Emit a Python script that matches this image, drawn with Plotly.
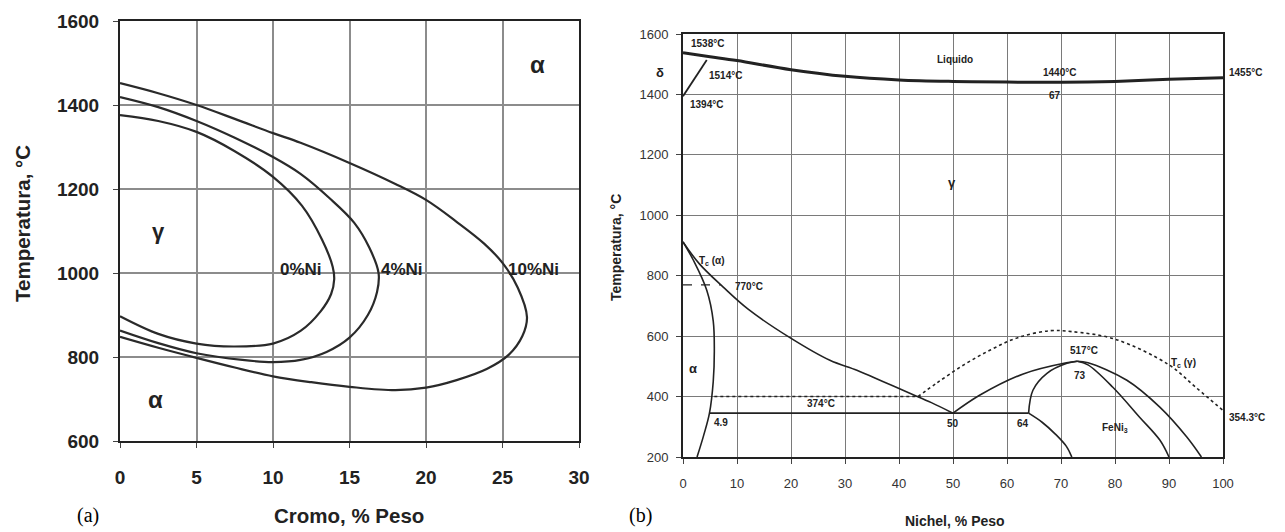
import plotly.graph_objects as go

# ---------------- Data: panel (a) Fe-Cr-Ni gamma loops ----------------
ni0_x = [0, 2.5, 5, 7.4, 10, 11.8, 13.1, 13.8, 14.0, 13.9, 13.2, 11.9, 10, 7.5, 5, 2.5, 0]
ni0_y = [897, 855, 832, 825, 832, 862, 908, 950, 985, 1015, 1080, 1160, 1229, 1290, 1336, 1362, 1376]

ni4_x = [0, 2.5, 5, 8, 10, 11.8, 13.5, 15, 16.2, 16.8, 16.9, 16.3, 15.3, 13.7, 11.8, 10, 7.5, 5, 2.5, 0]
ni4_y = [863, 833, 809, 793, 788, 793, 812, 846, 900, 955, 1000, 1060, 1120, 1178, 1236, 1276, 1322, 1362, 1395, 1419]

ni10_x = [0, 2.5, 5, 7.5, 10, 12.5, 15, 18, 20, 22, 24, 25.4, 26.3, 26.6, 26.0, 25, 23.8, 22, 20, 18, 15, 11.8, 10, 7.5, 5, 2.5, 0]
ni10_y = [848, 822, 798, 775, 754, 740, 729, 721, 727, 745, 772, 805, 850, 895, 965, 1024, 1070, 1122, 1174, 1212, 1262, 1310, 1333, 1367, 1400, 1428, 1452]

a_labels = ["γ", "α", "α", "0%Ni", "4%Ni", "10%Ni"]
a_lab_x = [2.5, 27.3, 2.3, 11.8, 18.4, 27.0]
a_lab_y = [1098, 1497, 700, 1008, 1008, 1008]
a_lab_size = [22, 24, 24, 17, 17, 17]

# ---------------- Data: panel (b) Fe-Ni diagram ----------------
liq_x = [0, 5, 10, 20, 30, 40, 50, 60, 67, 75, 80, 90, 100]
liq_y = [1538, 1525, 1512, 1482, 1460, 1448, 1443, 1441, 1440, 1441, 1443, 1450, 1455]

delta_x = [0, 4.4]
delta_y = [1394, 1514]

gam_x = [0, 3, 7.4, 12, 19.8, 27.2, 32.2, 37, 42, 46, 50]
gam_y = [912, 840, 763, 690, 595, 520, 487, 450, 411, 380, 345]

alp_x = [0, 1.9, 4.4, 5.6, 5.8, 5.6, 4.9, 3.8, 2.6]
alp_y = [912, 852, 752, 650, 550, 450, 345, 270, 200]

eut_x = [4.9, 64]
eut_y = [345, 345]

c64_x = [64, 66.5, 69, 71, 72]
c64_y = [345, 315, 275, 235, 200]

c64up_x = [64, 64.8, 67.4, 71.1, 73]
c64up_y = [345, 421, 477, 510, 517]

c50up_x = [50, 55, 63, 71, 73]
c50up_y = [345, 405, 475, 512, 517]

in73_x = [73, 75, 79.6, 84.6, 88.3, 90]
in73_y = [517, 505, 431, 331, 256, 200]

out73_x = [73, 75, 82.2, 88.3, 93.3, 96]
out73_y = [517, 512, 454, 365, 266, 200]

curie_x = [0, 7]
curie_y = [770, 770]

mag400_x = [5.8, 44]
mag400_y = [400, 400]

tcg_x = [43.5, 47, 52, 57, 62, 68, 72, 80, 90, 95, 100]
tcg_y = [400, 445, 505, 555, 595, 618, 615, 590, 505, 430, 354]

b_labels = ["1538°C", "1514°C", "1394°C", "δ", "Liquido", "1440°C", "67", "1455°C",
            "γ", "T<sub>c</sub> (α)", "770°C", "α", "374°C", "4.9", "50", "64",
            "517°C", "73", "T<sub>c</sub> (γ)", "354.3°C", "FeNi<sub>3</sub>"]
b_lab_x = [1.2, 4.4, 1.0, -4.3, 50.4, 69.8, 68.9, 100.8,
           49.8, 2.6, 9.3, 1.9, 25.6, 5.4, 50.0, 63.0,
           74.3, 73.5, 90.0, 100.8, 80.0]
b_lab_y = [1570, 1462, 1368, 1474, 1514, 1471, 1398, 1471,
           1110, 848, 763, 494, 378, 315, 312, 312,
           553, 471, 510, 332, 295]
b_lab_anchor = ["left", "left", "left", "center", "center", "center", "center", "left",
                "center", "left", "left", "center", "center", "left", "center", "center",
                "center", "center", "left", "left", "center"]

a_xticks = [0, 5, 10, 15, 20, 25, 30]
a_yticks = [600, 800, 1000, 1200, 1400, 1600]
b_xticks = [0, 10, 20, 30, 40, 50, 60, 70, 80, 90, 100]
b_yticks = [200, 400, 600, 800, 1000, 1200, 1400, 1600]

# the page body has an 8px margin; the figure is sized to fit the window after it
OFF = 8
W, H = 1285 - OFF, 532 - OFF
FONT = "Liberation Sans"

# pixel layout (window coordinates) of the two plot areas
A_L, A_R, A_T, A_B = 120, 579, 21, 441
B_L, B_R, B_T, B_B = 683, 1223, 34, 457


def px(xp):
    return (xp - OFF) / W


def py(yp):
    return 1 - (yp - OFF) / H


fig = go.Figure()

for xs, ys in [(ni0_x, ni0_y), (ni4_x, ni4_y), (ni10_x, ni10_y)]:
    fig.add_trace(go.Scatter(x=xs, y=ys, mode="lines",
                             line=dict(color="#2a2a2a", width=2.2, shape="spline", smoothing=1.0),
                             xaxis="x", yaxis="y", showlegend=False, hoverinfo="skip"))

for xs, ys, dash, w, shp in [
    (liq_x, liq_y, "solid", 3.0, "spline"),
    (delta_x, delta_y, "solid", 1.8, "linear"),
    (gam_x, gam_y, "solid", 1.6, "spline"),
    (alp_x, alp_y, "solid", 1.6, "spline"),
    (eut_x, eut_y, "solid", 1.8, "linear"),
    (c64_x, c64_y, "solid", 1.6, "spline"),
    (c64up_x, c64up_y, "solid", 1.6, "spline"),
    (c50up_x, c50up_y, "solid", 1.6, "spline"),
    (in73_x, in73_y, "solid", 1.6, "spline"),
    (out73_x, out73_y, "solid", 1.6, "spline"),
    (curie_x, curie_y, "dash", 1.2, "linear"),
    (mag400_x, mag400_y, "dot", 1.4, "linear"),
    (tcg_x, tcg_y, "dot", 1.6, "spline"),
]:
    fig.add_trace(go.Scatter(x=xs, y=ys, mode="lines",
                             line=dict(color="#222", width=w, dash=dash, shape=shp),
                             xaxis="x2", yaxis="y2", showlegend=False, hoverinfo="skip"))

ann = []
for t, x, y, s in zip(a_labels, a_lab_x, a_lab_y, a_lab_size):
    ann.append(dict(text=t, x=x, y=y, xref="x", yref="y", showarrow=False,
                    xanchor="center", yanchor="middle",
                    font=dict(family=FONT, size=s, color="#222", weight="bold")))


def bx(v):
    return px(B_L + (B_R - B_L) * v / 100.0)


def by(v):
    return py(B_B - (B_B - B_T) * (v - 200) / 1400.0)


for t, x, y, a in zip(b_labels, b_lab_x, b_lab_y, b_lab_anchor):
    sz = 13 if t in ("γ", "α", "δ") else 10
    ann.append(dict(text=t, x=bx(x), y=by(y), xref="paper", yref="paper", showarrow=False,
                    xanchor=a, yanchor="middle",
                    font=dict(family=FONT, size=sz, color="#222", weight="bold")))

# axis titles and panel letters
for t, xp, yp, ang, sz, fam in [
    ("Temperatura, °C", 22, 224, -90, 20.5, FONT),
    ("Cromo, % Peso", 349, 515, 0, 20.5, FONT),
    ("Temperatura, °C", 616, 248, -90, 14, FONT),
    ("Nichel, % Peso", 955, 521, 0, 14, FONT),
]:
    ann.append(dict(text=t, x=px(xp), y=py(yp), xref="paper", yref="paper", showarrow=False,
                    xanchor="center", yanchor="middle", textangle=ang,
                    font=dict(family=fam, size=sz, color="#222", weight="bold")))
for t, xp, yp in [("(a)", 88, 515), ("(b)", 640, 515)]:
    ann.append(dict(text=t, x=px(xp), y=py(yp), xref="paper", yref="paper", showarrow=False,
                    xanchor="center", yanchor="middle",
                    font=dict(family="Liberation Serif", size=20, color="#000")))

axcommon = dict(showline=True, mirror=True, linecolor="#222", linewidth=2, zeroline=False,
                showgrid=True, ticks="outside", ticklen=5, tickcolor="#444", automargin=False)

fig.update_layout(
    width=W, height=H, margin=dict(l=0, r=0, t=0, b=0, autoexpand=False),
    paper_bgcolor="white", plot_bgcolor="white",
    annotations=ann,
    xaxis=dict(**axcommon, domain=[px(A_L), px(A_R)], range=[0, 30], tickvals=a_xticks,
               gridcolor="#8c8c8c", gridwidth=1.5, ticklabelstandoff=13,
               tickfont=dict(family=FONT, size=19, color="#222", weight="bold"), anchor="y"),
    yaxis=dict(**axcommon, domain=[py(A_B), py(A_T)], range=[600, 1600], tickvals=a_yticks,
               gridcolor="#8c8c8c", gridwidth=1.5, ticklabelstandoff=10,
               tickfont=dict(family=FONT, size=19, color="#222", weight="bold"), anchor="x"),
    xaxis2=dict(**axcommon, domain=[px(B_L), px(B_R)], range=[0, 100], tickvals=b_xticks,
                gridcolor="#7a7a7a", gridwidth=1.2, ticklabelstandoff=8,
                tickfont=dict(family=FONT, size=13, color="#333"), anchor="y2"),
    yaxis2=dict(**axcommon, domain=[py(B_B), py(B_T)], range=[200, 1600], tickvals=b_yticks,
                gridcolor="#7a7a7a", gridwidth=1.2, ticklabelstandoff=5,
                tickfont=dict(family=FONT, size=13, color="#333"), anchor="x2"),
)

fig.write_html("out.html")
